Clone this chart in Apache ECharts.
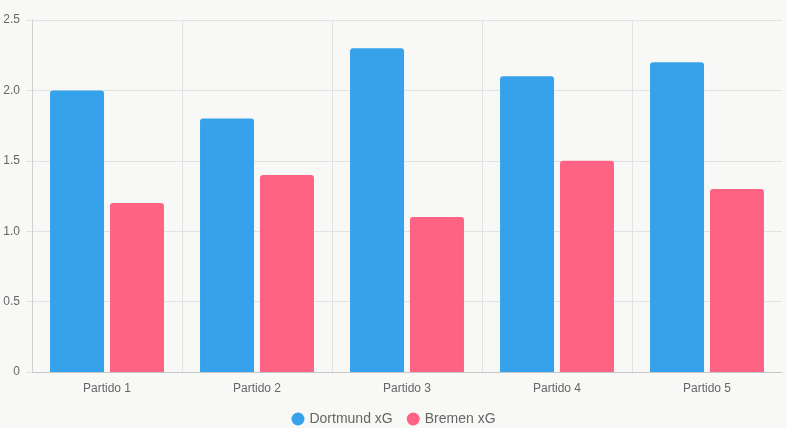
<!DOCTYPE html>
<html lang="es">
  <head>
    <meta charset="UTF-8" />
    <title>xG Dortmund vs Bremen</title>
    <style>
      html,
      body {
        margin: 0;
        width: 100%;
        height: 100%;
        overflow: hidden;
        background: #f8f8f6;
      }
      #main {
        width: 787px;
        height: 428px;
      }
    </style>
  </head>
  <body>
    <div id="main"></div>
    <script src="https://cdn.jsdelivr.net/npm/echarts@6/dist/echarts.min.js"></script>
    <script>
      // datos
      const partidos = ["Partido 1", "Partido 2", "Partido 3", "Partido 4", "Partido 5"];
      const dortmundXG = [2.0, 1.8, 2.3, 2.1, 2.2];
      const bremenXG = [1.2, 1.4, 1.1, 1.5, 1.3];

      const font = "'Liberation Sans', Arial, sans-serif";
      const gridColor = "#e2e2e2";

      const chart = echarts.init(document.getElementById("main"));
      chart.setOption({
        backgroundColor: "#f8f8f6",
        animation: false,
        textStyle: { fontFamily: font },
        grid: { left: 32, right: 5, top: 20, bottom: 56 },
        legend: {
          bottom: -3,
          left: "center",
          icon: "circle",
          itemWidth: 13,
          itemHeight: 13,
          itemGap: 14,
          textStyle: { fontSize: 14, color: "#666", fontFamily: font },
        },
        xAxis: {
          type: "category",
          data: partidos,
          axisLine: { lineStyle: { color: "#c8c8c8" } },
          axisTick: { length: 8, lineStyle: { color: gridColor } },
          axisLabel: { fontSize: 12, color: "#666", margin: 11 },
          splitLine: {
            show: true,
            lineStyle: {
              color: [gridColor, gridColor, gridColor, gridColor, gridColor, "transparent"],
            },
          },
        },
        yAxis: {
          type: "value",
          min: 0,
          max: 2.5,
          interval: 0.5,
          axisLine: { show: true, lineStyle: { color: "#d0d0d0" } },
          axisTick: { show: true, length: 6, lineStyle: { color: gridColor } },
          axisLabel: {
            fontSize: 12,
            color: "#666",
            margin: 12,
            formatter: (v) => (v === 0 ? "0" : v.toFixed(1)),
          },
          splitLine: { lineStyle: { color: gridColor } },
        },
        series: [
          {
            name: "Dortmund xG",
            type: "bar",
            data: dortmundXG,
            barWidth: 54,
            barGap: "11%",
            itemStyle: { color: "#36a2eb", borderRadius: [3, 3, 0, 0] },
          },
          {
            name: "Bremen xG",
            type: "bar",
            data: bremenXG,
            barWidth: 54,
            itemStyle: { color: "#ff6384", borderRadius: [3, 3, 0, 0] },
          },
        ],
      });
    </script>
  </body>
</html>
